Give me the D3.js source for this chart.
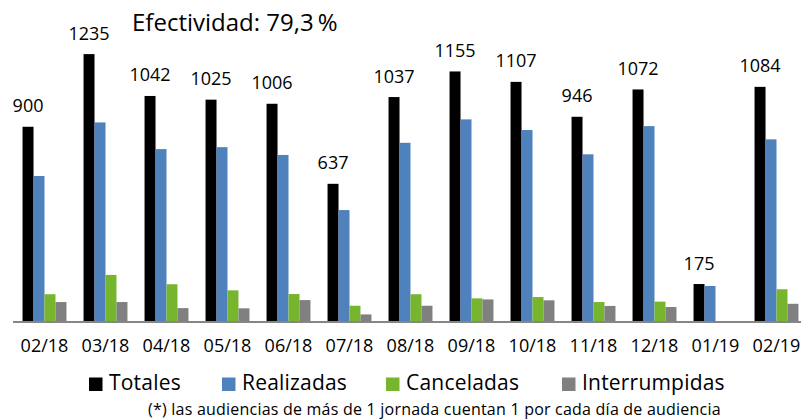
<!DOCTYPE html>
<html>
<head>
<meta charset="utf-8">
<script src="https://cdn.jsdelivr.net/npm/d3@7"></script>
<style>
  body { margin: 0; background: #fff; }
  svg { display: block; font-family: "Open Sans", sans-serif; }
</style>
</head>
<body>
<svg id="chart" width="801" height="419"></svg>
<script>
const months = ["02/18","03/18","04/18","05/18","06/18","07/18","08/18","09/18","10/18","11/18","12/18","01/19","02/19"];
const series = ["Totales","Realizadas","Canceladas","Interrumpidas"];
const totales       = [900, 1235, 1042, 1025, 1006, 637, 1037, 1155, 1107, 946, 1072, 175, 1084];
const realizadas    = [673, 920, 797, 806, 770, 516, 826, 934, 885, 773, 903, 166, 842];
const canceladas    = [128, 217, 174, 146, 129, 75, 128, 109, 115, 92, 94, 0, 151];
const interrumpidas = [92, 92, 64, 63, 101, 35, 75, 104, 100, 74, 69, 0, 84];
const title = "Efectividad: 79,3\u2009%";
const footnote = "(*) las audiencias de más de 1 jornada cuentan 1 por cada día de audiencia";

const colors = {
  Totales: "#000000",
  Realizadas: "#4f81bd",
  Canceladas: "#77b52f",
  Interrumpidas: "#808080"
};

const values = { Totales: totales, Realizadas: realizadas, Canceladas: canceladas, Interrumpidas: interrumpidas };

const svg = d3.select("#chart");

const x0 = d3.scaleBand()
  .domain(months)
  .range([14, 807])
  .paddingInner(0.28)
  .paddingOuter(0.14);

const x1 = d3.scaleBand()
  .domain(series)
  .range([0, x0.bandwidth()]);

const y = d3.scaleLinear()
  .domain([0, 1300])
  .range([322, 40]);

const rows = months.map((m, i) => ({
  month: m,
  bars: series.map(s => ({ key: s, value: values[s][i] }))
}));

const groups = svg.append("g")
  .selectAll("g")
  .data(rows)
  .enter()
  .append("g")
  .attr("transform", d => `translate(${x0(d.month)},0)`);

groups.selectAll("rect")
  .data(d => d.bars.filter(b => b.value > 0))
  .enter()
  .append("rect")
  .attr("x", d => x1(d.key))
  .attr("y", d => y(d.value))
  .attr("width", x1.bandwidth())
  .attr("height", d => y(0) - y(d.value))
  .attr("fill", d => colors[d.key]);

// totals labels
groups.append("text")
  .attr("x", x1("Totales") + x1.bandwidth() / 2)
  .attr("y", d => y(d.bars[0].value) - 14.5)
  .attr("text-anchor", "middle")
  .attr("font-size", "18px")
  .attr("fill", "#000")
  .text(d => d.bars[0].value);

// x axis
const xAxis = svg.append("g")
  .attr("transform", `translate(0,${y(0)})`)
  .call(d3.axisBottom(x0).tickSize(0).tickPadding(17));
xAxis.select(".domain").attr("stroke", "#868686").attr("stroke-width", 2).attr("d", "M13,0H801");
xAxis.selectAll("text")
  .attr("font-size", "18px")
  .attr("font-family", "Open Sans, sans-serif")
  .attr("fill", "#000");

// title
svg.append("text")
  .attr("x", 132)
  .attr("y", 31)
  .attr("font-size", "24px")
  .attr("fill", "#000")
  .text(title);

// legend
const legendX = [89, 222, 386, 562];
const legend = svg.append("g")
  .selectAll("g")
  .data(series)
  .enter()
  .append("g")
  .attr("transform", (d, i) => `translate(${legendX[i]},0)`);

legend.append("rect")
  .attr("x", 0)
  .attr("y", 377.5)
  .attr("width", 13.5)
  .attr("height", 13.5)
  .attr("fill", d => colors[d]);

legend.append("text")
  .attr("x", 20)
  .attr("y", 390)
  .attr("font-size", "21px")
  .attr("letter-spacing", "0.2px")
  .attr("fill", "#000")
  .text(d => d);

svg.append("text")
  .attr("x", 148)
  .attr("y", 414.5)
  .attr("font-size", "16px")
  .attr("letter-spacing", "0.22px")
  .attr("fill", "#000")
  .text(footnote);
</script>
</body>
</html>
